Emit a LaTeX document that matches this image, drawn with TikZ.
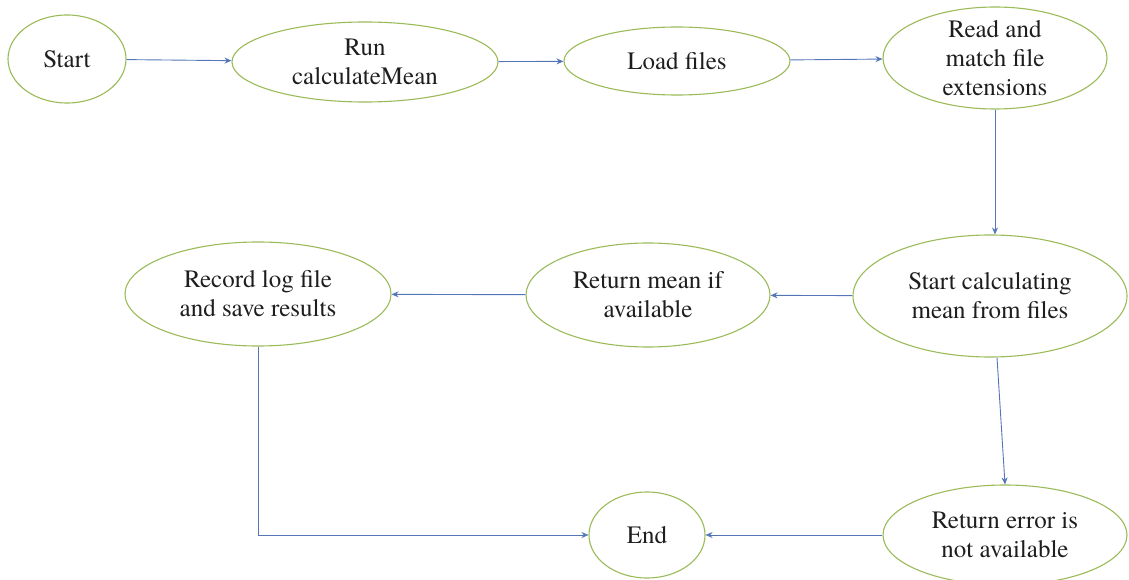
\documentclass[tikz,border=0pt]{standalone}
\usepackage{fontspec}
\setmainfont{TeX Gyre Termes}
\usetikzlibrary{shapes.geometric,arrows.meta}
\definecolor{ovalline}{RGB}{155,187,89}
\definecolor{flowline}{RGB}{84,118,184}
\definecolor{inktext}{RGB}{30,30,30}
\begin{document}
\begin{tikzpicture}[x=1pt,y=-1pt,
  oval/.style={ellipse, draw=ovalline, line width=1.1pt, inner sep=0pt,
    align=center, text=inktext, font=\rmfamily\fontsize{25}{29}\selectfont},
  flow/.style={draw=flowline, line width=0.9pt, -{Stealth[length=7pt,width=6pt]}}]
\useasboundingbox (0,0) rectangle (1129,580);

% top row
\node[oval, minimum width=118pt, minimum height=88pt] (start) at (67,59) {Start};
\node[oval, minimum width=266pt, minimum height=80pt] (run) at (365,62) {Run\\calculateMean};
\node[oval, minimum width=226pt, minimum height=68pt] (load) at (677,61) {Load files};
\node[oval, minimum width=224pt, minimum height=102pt, inner ysep=-16pt] (read) at (995,58) {Read and\\match file\\extensions};

% middle row
\node[oval, minimum width=274pt, minimum height=122pt] (calc) at (990,296) {Start calculating\\mean from files};
\node[oval, minimum width=244pt, minimum height=104pt] (mean) at (648,295) {Return mean if\\available};
\node[oval, minimum width=266pt, minimum height=104pt] (rec) at (258,294) {Record log file\\and save results};

% bottom row
\node[oval, minimum width=116pt, minimum height=86pt] (end) at (647,535) {End};
\node[oval, minimum width=244pt, minimum height=100pt] (err) at (1005,535) {Return error is\\not available};

% connectors
\draw[flow] (start) -- (run);
\draw[flow] (run) -- (load);
\draw[flow] (load) -- (read);
\draw[flow] (read.south) -- (read.south |- calc.north);
\draw[flow] (calc) -- (mean);
\draw[flow] (mean) -- (rec);
\draw[flow] ([xshift=7pt]calc.south) -- (err.north);
\draw[flow] (err) -- (end);
\draw[flow] (rec.south) |- (end.west);
\end{tikzpicture}
\end{document}
